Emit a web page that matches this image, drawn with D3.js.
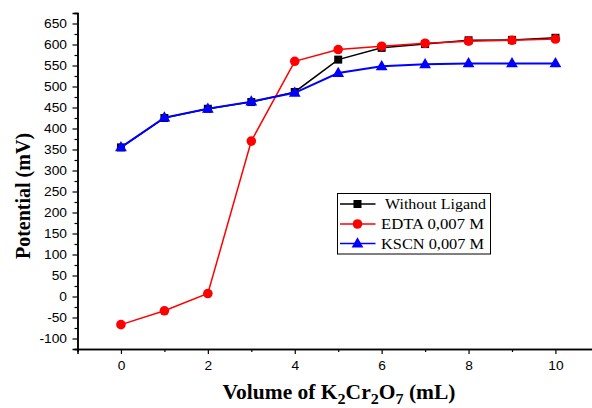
<!DOCTYPE html>
<html>
<head>
<meta charset="utf-8">
<script src="https://cdn.jsdelivr.net/npm/d3@7"></script>
<style>
  html, body { margin: 0; padding: 0; background: #fff; }
  svg { display: block; }
</style>
</head>
<body>
<svg id="chart" width="592" height="408"></svg>
<script>
// Titration volumes (mL of K2Cr2O7)
const volumes = [0, 1, 2, 3, 4, 5, 6, 7, 8, 9, 10];

// Measured potentials (mV)
const withoutLigand = [355, 425, 447, 463, 487, 564, 592, 601, 610, 611, 616];
const edta          = [-67, -34, 7, 370, 560, 588, 596, 603, 608, 610, 613];
const kscn          = [355, 426, 447, 464, 485, 532, 548, 553, 555, 555, 555];

const seriesNames  = ["Without Ligand", "EDTA 0,007 M", "KSCN 0,007 M"];
const seriesColors = ["#000000", "#ff0000", "#0000ff"];
const seriesShapes = ["square", "circle", "triangle"];

const xMajorTicks = [0, 2, 4, 6, 8, 10];
const yMajorTicks = [-100, -50, 0, 50, 100, 150, 200, 250, 300, 350, 400, 450, 500, 550, 600, 650];

const svg = d3.select("#chart");

const x = d3.scaleLinear().domain([-1, 11]).range([77.5, 598.9]);
const y = d3.scaleLinear().domain([-125, 675]).range([349, 13]);

// Plain hyphen for negatives, as in the original plotting software
const plainFormat = d => String(d);

const xAxis = d3.axisBottom(x).tickValues(xMajorTicks).tickSize(5).tickFormat(plainFormat);
const xMinor = d3.axisBottom(x).tickValues(d3.range(-1, 12, 2)).tickSize(3).tickFormat("");
const yAxis = d3.axisLeft(y).tickValues(yMajorTicks).tickSize(5).tickFormat(plainFormat);
const yMinor = d3.axisLeft(y).tickValues(d3.range(-125, 676, 50)).tickSize(3).tickFormat("");

// Slightly wide glyphs for labels
function widen(sel, factor) {
  sel.each(function () {
    const w = this.getComputedTextLength();
    this.setAttribute("textLength", w * factor);
    this.setAttribute("lengthAdjust", "spacingAndGlyphs");
  });
}

function styleAxis(g) {
  g.select(".domain").attr("stroke", "#000").attr("stroke-width", 1.5);
  g.selectAll(".tick line").attr("stroke", "#000").attr("stroke-width", 1.2);
  g.selectAll(".tick text")
    .attr("fill", "#000")
    .style("font-family", "'Liberation Sans', Arial, sans-serif")
    .style("font-size", "12.5px");
}

svg.append("g").attr("transform", `translate(0,${y(-125)})`).call(xMinor).call(styleAxis);
svg.append("g").attr("transform", `translate(0,${y(-125)})`).call(xAxis).call(styleAxis)
  .selectAll(".tick text").attr("dy", "1.05em").call(widen, 1.1);
svg.append("g").attr("transform", `translate(${x(-1)},0)`).call(yMinor).call(styleAxis);
svg.append("g").attr("transform", `translate(${x(-1)},0)`).call(yAxis).call(styleAxis)
  .selectAll(".tick text").attr("dx", "-0.2em").call(widen, 1.1);

// Axis titles
const titleFont = "'Liberation Serif', 'Times New Roman', serif";
const xt = svg.append("g")
  .attr("transform", "translate(339,399) scale(1.075,1)")
  .append("text")
  .attr("x", 0).attr("y", 0)
  .attr("text-anchor", "middle")
  .style("font-family", titleFont)
  .style("font-weight", "bold")
  .style("font-size", "20px");
xt.append("tspan").text("Volume of K");
xt.append("tspan").attr("dy", 4.5).style("font-size", "15px").text("2");
xt.append("tspan").attr("dy", -4.5).text("Cr");
xt.append("tspan").attr("dy", 4.5).style("font-size", "15px").text("2");
xt.append("tspan").attr("dy", -4.5).text("O");
xt.append("tspan").attr("dy", 4.5).style("font-size", "15px").text("7");
xt.append("tspan").attr("dy", -4.5).text(" (mL)");

svg.append("text")
  .attr("transform", "translate(30,196) rotate(-90)")
  .attr("text-anchor", "middle")
  .style("font-family", titleFont)
  .style("font-weight", "bold")
  .style("font-size", "20px")
  .text("Potential (mV)");

// Series
const allSeries = [withoutLigand, edta, kscn];
const line = d3.line().x((d, i) => x(volumes[i])).y(d => y(d));

function drawMarker(g, shape, cx, cy, color) {
  if (shape === "square") {
    g.append("rect").attr("x", cx - 4).attr("y", cy - 4).attr("width", 8).attr("height", 8).attr("fill", color);
  } else if (shape === "circle") {
    g.append("circle").attr("cx", cx).attr("cy", cy).attr("r", 4.8).attr("fill", color);
  } else {
    g.append("path")
      .attr("d", d3.symbol().type(d3.symbolTriangle).size(60)())
      .attr("transform", `translate(${cx},${cy + 0.5})`)
      .attr("fill", color);
  }
}

allSeries.forEach((vals, s) => {
  const g = svg.append("g");
  g.append("path")
    .datum(vals)
    .attr("d", line)
    .attr("fill", "none")
    .attr("stroke", seriesColors[s])
    .attr("stroke-width", s === 2 ? 2 : 1.5);
  vals.forEach((v, i) => drawMarker(g, seriesShapes[s], x(volumes[i]), y(v), seriesColors[s]));
});

// Legend
const legend = svg.append("g");
legend.append("rect")
  .attr("x", 337.5).attr("y", 193.5).attr("width", 153).attr("height", 60.5)
  .attr("fill", "#fff").attr("stroke", "#000").attr("stroke-width", 1);
const rowY = [204, 224, 243.5];
const textX = [385, 381, 381];
const textW = [101, 103, 103];
seriesNames.forEach((name, s) => {
  legend.append("line")
    .attr("x1", 340).attr("x2", 375.5).attr("y1", rowY[s]).attr("y2", rowY[s])
    .attr("stroke", seriesColors[s]).attr("stroke-width", 1.5);
  drawMarker(legend, seriesShapes[s], 357.5, rowY[s], seriesColors[s]);
  legend.append("text")
    .attr("x", textX[s]).attr("y", rowY[s] + 5)
    .attr("textLength", textW[s])
    .attr("lengthAdjust", "spacingAndGlyphs")
    .style("font-family", titleFont)
    .style("font-size", "14.5px")
    .text(name);
});
</script>
</body>
</html>
